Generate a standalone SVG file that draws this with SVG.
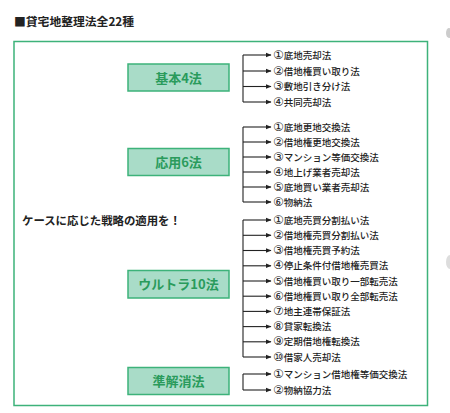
<svg xmlns="http://www.w3.org/2000/svg" width="450" height="413" viewBox="0 0 450 413">
<defs>
<marker id="ah" markerWidth="6" markerHeight="6" refX="5" refY="3" orient="auto" markerUnits="userSpaceOnUse">
<path d="M0,0.8 L5.5,3 L0,5.2 Z" fill="#222"/>
</marker>
</defs>
<style>
.cat rect{fill:#a9dcc8;stroke:#3db27a;stroke-width:1.5}
.cat text{font-family:"Noto Sans CJK JP","Noto Sans",sans-serif;font-weight:700;font-size:13px;fill:#2a9b5c;text-anchor:middle}
.it{font-family:"Noto Sans CJK JP","Noto Sans",sans-serif;font-size:9.5px;fill:#222;font-weight:500}
.n{font-family:"DejaVu Sans","Noto Sans CJK JP",sans-serif;font-size:12px;font-weight:400}
.ln{fill:none;stroke:#222;stroke-width:1.1}
.ar{stroke:#222;stroke-width:1.1;marker-end:url(#ah)}
</style>
<rect width="450" height="413" fill="#fff"/>
<text x="14" y="26" font-family="'Noto Sans CJK JP',sans-serif" font-weight="700" font-size="11.8" fill="#222">■貸宅地整理法全22種</text>
<ellipse cx="449" cy="33" rx="3" ry="5" fill="#ccc"/>
<ellipse cx="450" cy="262" rx="4" ry="7" fill="#ddd"/>
<rect id="frame" x="14" y="41.5" width="413.5" height="364" fill="#fff" stroke="#3db27a" stroke-width="1.5"/>
<text x="22" y="225" font-family="'Noto Sans CJK JP',serif" font-weight="700" font-size="11.4" fill="#222">ケースに応じた戦略の適用を！</text>
<g id="kihon" class="cat"><rect x="128" y="64" width="101" height="27"/><text x="178.5" y="82.5">基本4法</text></g>
<g id="ouyou" class="cat"><rect x="128" y="148.5" width="101" height="27"/><text x="178.5" y="167">応用6法</text></g>
<g id="ultra" class="cat"><rect x="128" y="270.5" width="101" height="27.5"/><text x="178.5" y="289">ウルトラ10法</text></g>
<g id="jun" class="cat"><rect x="128" y="367.5" width="101" height="27"/><text x="178.5" y="386">準解消法</text></g>
<g id="connectors">
<path class="ln" d="M243,55 V102"/>
<line class="ar" x1="243" y1="55" x2="271" y2="55"/>
<line class="ar" x1="243" y1="71" x2="271" y2="71"/>
<line class="ar" x1="243" y1="86.5" x2="271" y2="86.5"/>
<line class="ar" x1="243" y1="102" x2="271" y2="102"/>
<path class="ln" d="M243,127 V202"/>
<line class="ar" x1="243" y1="127" x2="271" y2="127"/>
<line class="ar" x1="243" y1="142" x2="271" y2="142"/>
<line class="ar" x1="243" y1="157" x2="271" y2="157"/>
<line class="ar" x1="243" y1="172" x2="271" y2="172"/>
<line class="ar" x1="243" y1="187" x2="271" y2="187"/>
<line class="ar" x1="243" y1="202" x2="271" y2="202"/>
<path class="ln" d="M243,220 V357"/>
<line class="ar" x1="243" y1="220" x2="271" y2="220"/>
<line class="ar" x1="243" y1="235.3" x2="271" y2="235.3"/>
<line class="ar" x1="243" y1="250.5" x2="271" y2="250.5"/>
<line class="ar" x1="243" y1="265.8" x2="271" y2="265.8"/>
<line class="ar" x1="243" y1="281" x2="271" y2="281"/>
<line class="ar" x1="243" y1="296.2" x2="271" y2="296.2"/>
<line class="ar" x1="243" y1="311.4" x2="271" y2="311.4"/>
<line class="ar" x1="243" y1="326.6" x2="271" y2="326.6"/>
<line class="ar" x1="243" y1="341.8" x2="271" y2="341.8"/>
<line class="ar" x1="243" y1="357" x2="271" y2="357"/>
<path class="ln" d="M243,374 V390"/>
<line class="ar" x1="243" y1="374" x2="271" y2="374"/>
<line class="ar" x1="243" y1="390" x2="271" y2="390"/>
</g>
<g id="items-kihon">
<text class="it" x="273" y="58.5"><tspan class="n">①</tspan>底地売却法</text>
<text class="it" x="273" y="74.5"><tspan class="n">②</tspan>借地権買い取り法</text>
<text class="it" x="273" y="90"><tspan class="n">③</tspan>敷地引き分け法</text>
<text class="it" x="273" y="105.5"><tspan class="n">④</tspan>共同売却法</text>
</g>
<g id="items-ouyou">
<text class="it" x="273" y="130.5"><tspan class="n">①</tspan>底地更地交換法</text>
<text class="it" x="273" y="145.5"><tspan class="n">②</tspan>借地権更地交換法</text>
<text class="it" x="273" y="160.5"><tspan class="n">③</tspan>マンション等価交換法</text>
<text class="it" x="273" y="175.5"><tspan class="n">④</tspan>地上げ業者売却法</text>
<text class="it" x="273" y="190.5"><tspan class="n">⑤</tspan>底地買い業者売却法</text>
<text class="it" x="273" y="205.5"><tspan class="n">⑥</tspan>物納法</text>
</g>
<g id="items-ultra">
<text class="it" x="273" y="223.5"><tspan class="n">①</tspan>底地売買分割払い法</text>
<text class="it" x="273" y="238.8"><tspan class="n">②</tspan>借地権売買分割払い法</text>
<text class="it" x="273" y="254"><tspan class="n">③</tspan>借地権売買予約法</text>
<text class="it" x="273" y="269.3"><tspan class="n">④</tspan>停止条件付借地権売買法</text>
<text class="it" x="273" y="284.5"><tspan class="n">⑤</tspan>借地権買い取り一部転売法</text>
<text class="it" x="273" y="299.7"><tspan class="n">⑥</tspan>借地権買い取り全部転売法</text>
<text class="it" x="273" y="314.9"><tspan class="n">⑦</tspan>地主連帯保証法</text>
<text class="it" x="273" y="330.1"><tspan class="n">⑧</tspan>貸家転換法</text>
<text class="it" x="273" y="345.3"><tspan class="n">⑨</tspan>定期借地権転換法</text>
<text class="it" x="273" y="360.5"><tspan class="n">⑩</tspan>借家人売却法</text>
</g>
<g id="items-jun">
<text class="it" x="273" y="377.5"><tspan class="n">①</tspan>マンション借地権等価交換法</text>
<text class="it" x="273" y="393.5"><tspan class="n">②</tspan>物納協力法</text>
</g>
</svg>
